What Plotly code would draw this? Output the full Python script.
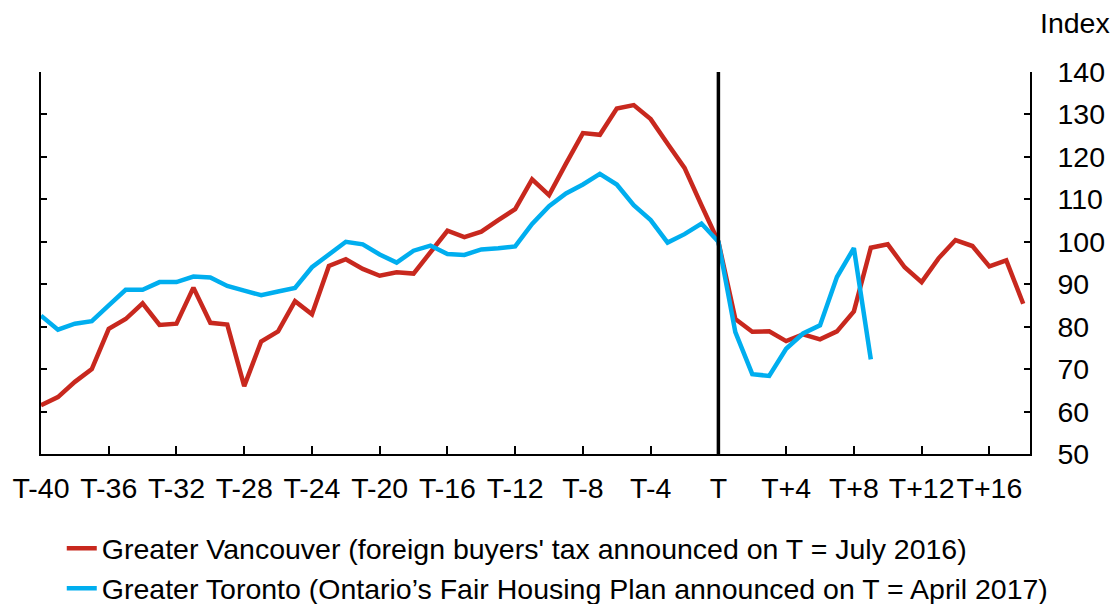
import plotly.graph_objects as go

periods = list(range(-40, 19))
vancouver = [61.5, 63.4, 67.0, 70.0, 79.5, 81.8, 85.5, 80.4, 80.7, 89.2, 80.9, 80.5,
             66.0, 76.5, 78.9, 86.0, 82.9, 94.3, 95.9, 93.6, 92.0, 92.8, 92.5, 97.7,
             102.6, 101.1, 102.4, 105.1, 107.7, 114.7, 111.0, 118.4, 125.6, 125.2,
             131.4, 132.2, 128.9, 123.1, 117.4, 108.6, 100.0, 81.8, 78.8, 78.9, 76.6,
             78.2, 77.0, 78.9, 83.6, 98.6, 99.4, 94.0, 90.5, 96.1, 100.4, 99.0, 94.2,
             95.6, 85.4]
toronto_periods = list(range(-40, 10))
toronto = [82.6, 79.3, 80.7, 81.3, 85.0, 88.7, 88.7, 90.5, 90.5, 91.8, 91.6, 89.6,
           88.5, 87.4, 88.3, 89.1, 94.0, 97.1, 100.0, 99.4, 97.0, 95.1, 97.9, 99.1,
           97.1, 96.9, 98.2, 98.5, 98.9, 104.2, 108.4, 111.4, 113.5, 116.0, 113.5,
           108.6, 105.1, 99.8, 101.8, 104.3, 100.0, 78.7, 68.8, 68.4, 74.8, 78.4,
           80.3, 91.7, 98.5, 72.3]
tick_vals = list(range(-40, 17, 4))
tick_text = ["T-40", "T-36", "T-32", "T-28", "T-24", "T-20", "T-16", "T-12", "T-8",
             "T-4", "T", "T+4", "T+8", "T+12", "T+16"]

FONT = "Liberation Sans, Arial, sans-serif"
FS = 28.5

fig = go.Figure()
fig.add_trace(go.Scatter(x=periods, y=vancouver, mode="lines",
                         line=dict(color="#C8281E", width=4.5),
                         name="Greater Vancouver (foreign buyers' tax announced on T = July 2016)"))
fig.add_trace(go.Scatter(x=toronto_periods, y=toronto, mode="lines",
                         line=dict(color="#00AEEF", width=4.5),
                         name="Greater Toronto (Ontario’s Fair Housing Plan announced on T = April 2017)"))

fig.add_shape(type="line", x0=0, x1=0, y0=0, y1=1, xref="x", yref="paper",
              line=dict(color="black", width=3.5))

fig.add_annotation(text="Index", x=1.0, xref="paper", y=1.0, yref="paper",
                   xanchor="left", yanchor="middle", xshift=8, yshift=49,
                   showarrow=False, font=dict(size=FS, color="black", family=FONT))

fig.update_layout(
    width=1118, height=604,
    margin=dict(l=41, r=88, t=72, b=150, autoexpand=False),
    plot_bgcolor="white", paper_bgcolor="white",
    font=dict(family=FONT, size=FS, color="black"),
    showlegend=True,
    legend=dict(orientation="v", x=0.021, y=-0.181, xanchor="left", yanchor="top",
                font=dict(size=FS, family=FONT), tracegroupgap=0,
                bgcolor="rgba(0,0,0,0)"),
    xaxis=dict(range=[-40, 18.4], tickmode="array", tickvals=tick_vals, ticktext=tick_text,
               tickangle=0,
               ticks="inside", ticklen=8, tickwidth=1.5, tickcolor="black", showline=True,
               linecolor="black", linewidth=1.5, showgrid=False, zeroline=False,
               automargin=False, ticklabelstandoff=8, tickfont=dict(size=FS)),
    yaxis=dict(range=[50, 140], dtick=10, side="right", ticks="inside", ticklen=6,
               tickwidth=1.5, tickcolor="black", showline=True, linecolor="black",
               linewidth=1.5, mirror="allticks", showgrid=False, zeroline=False,
               automargin=False, ticklabelstandoff=20, tickfont=dict(size=FS)),
)

fig.write_html("out.html", config={"displayModeBar": False},
               post_script="document.body.style.margin='0px';")
